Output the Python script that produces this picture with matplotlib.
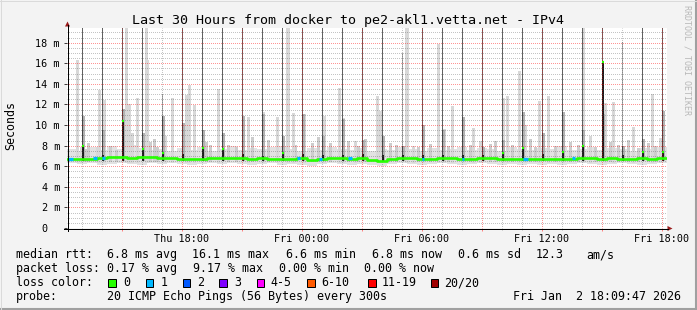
import numpy as np
import matplotlib
matplotlib.use("Agg")
import matplotlib.pyplot as plt
from matplotlib.patches import Rectangle, Polygon
from matplotlib.lines import Line2D

plt.rcParams['font.family'] = ['DejaVu Sans Mono']

# ---------------- data ----------------
title = "Last 30 Hours from docker to pe2-akl1.vetta.net - IPv4"
x_start, x_end = 12.25, 42.25          # hours since Thu 00:00
y_max = 19.43                          # ms

xtick_hours = [15, 18, 21, 24, 27, 30, 33, 36, 39, 42]
xtick_labels = ["", "Thu 18:00", "", "Fri 00:00", "", "Fri 06:00", "", "Fri 12:00", "", "Fri 18:00"]
ytick_values = [0, 2, 4, 6, 8, 10, 12, 14, 16, 18]
ytick_labels = ["0  ", "2 m", "4 m", "6 m", "8 m", "10 m", "12 m", "14 m", "16 m", "18 m"]

# half-hour bins: median rtt and the base smoke band (ms)
bin_start = [12.25 + 0.5 * i for i in range(60)]
median_ms = [6.75, 6.75, 6.75, 6.80, 6.85, 6.85, 6.80, 6.85, 6.85, 6.80,
             6.80, 6.75, 6.70, 6.75, 6.80, 6.80, 6.80, 6.80, 6.75, 6.80,
             6.70, 6.70, 6.75, 6.80, 6.65, 6.75, 6.80, 6.80, 6.75, 6.80,
             6.60, 6.55, 6.75, 6.80, 6.80, 6.75, 6.75, 6.80, 6.80, 6.75,
             6.75, 6.80, 6.80, 6.75, 6.70, 6.75, 6.75, 6.70, 6.75, 6.70,
             6.75, 6.80, 6.80, 6.75, 6.80, 6.75, 6.75, 6.80, 6.75, 6.80]
smoke_hi = [7.6, 7.4, 7.8, 7.5, 7.9, 7.6, 8.0, 7.7, 7.5, 7.6,
            7.4, 7.7, 7.5, 7.8, 7.4, 7.6, 7.9, 7.5, 7.7, 7.6,
            7.8, 7.9, 7.6, 7.4, 7.7, 7.5, 7.8, 7.6, 7.5, 7.7,
            7.4, 7.6, 7.5, 7.8, 7.6, 7.4, 7.7, 7.5, 7.6, 7.8,
            7.5, 7.7, 7.6, 7.4, 7.8, 7.6, 7.5, 7.7, 7.6, 7.9,
            7.5, 7.6, 7.8, 7.5, 7.7, 7.6, 7.4, 7.7, 7.6, 7.8]
smoke_lo = [6.4, 6.3, 6.4, 6.2, 6.3, 6.4, 6.3, 6.2, 6.4, 6.3,
            6.4, 6.3, 6.2, 6.3, 6.4, 6.3, 6.4, 6.3, 6.2, 6.3,
            6.4, 6.2, 6.3, 6.2, 6.1, 6.3, 6.4, 6.3, 6.2, 6.3,
            6.2, 6.1, 6.3, 6.4, 6.3, 6.2, 6.3, 6.4, 6.3, 6.2,
            6.3, 6.4, 6.3, 6.2, 6.3, 6.2, 6.3, 6.2, 6.3, 6.2,
            6.3, 6.4, 6.3, 6.2, 6.3, 6.4, 6.3, 6.2, 6.3, 6.4]

# hourly outlier events (top of the hour)
spike_hour = list(range(13, 43))
spike_top = [19.5, 19.5, 19.5, 19.5, 13.0, 19.5, 19.5, 19.5, 19.5, 19.5,
             19.5, 19.5, 19.5, 19.5, 19.5, 19.5, 17.0, 19.5, 19.5, 19.5,
             19.5, 19.5, 19.5, 19.5, 19.5, 19.5, 19.5, 18.0, 19.5, 19.5]
spike_dense_top = [10.8, 9.5, 11.5, 9.2, 10.8, 10.2, 9.5, 9.2, 10.8, 11.0,
                   8.9, 11.0, 8.9, 10.5, 8.5, 8.9, 7.9, 10.0, 9.5, 10.7,
                   7.8, 8.5, 11.2, 9.2, 11.2, 9.5, 11.0, 7.9, 8.6, 11.3]
spike_core_top = [8.0, 7.0, 10.4, 7.7, 7.3, 7.1, 7.8, 7.7, 7.1, 6.9,
                  7.3, 7.1, 7.0, 7.0, 7.1, 7.0, 7.0, 7.0, 7.0, 7.0,
                  7.0, 7.3, 7.8, 7.1, 7.4, 8.0, 16.1, 7.0, 7.4, 7.4]
spike_faint = [False, False, False, False, True, False, False, False, False, False,
               False, False, False, False, False, False, True, False, False, False,
               False, False, False, False, False, False, False, True, False, False]

# tall light smoke bars (hour, top ms)
light_hour = [12.745, 12.915, 13.715, 13.83, 14.055, 15.18, 15.305, 15.465, 15.715, 16.155,
              16.245, 17.13, 17.48, 18.165, 18.33, 18.58, 19.755, 21.295, 22.045, 22.715,
              23.22, 23.27, 23.505, 24.055, 25.055, 25.83, 26.045, 26.63, 27.745, 27.88,
              29.16, 29.21, 29.545, 30.045, 30.755, 31.08, 31.465, 32.045, 32.545, 32.88,
              34.045, 34.215, 34.82, 35.13, 35.83, 36.295, 37.045, 38.045, 38.38, 39.13,
              39.545, 40.545, 41.465, 41.88]
light_top = [16.3, 7.8, 7.8, 13.4, 12.4, 19.5, 12.0, 9.2, 12.6, 19.5,
             16.3, 8.9, 12.6, 12.9, 13.8, 11.9, 13.5, 10.7, 11.2, 10.7,
             19.5, 19.5, 11.1, 11.0, 10.8, 13.6, 10.6, 8.4, 12.8, 11.3,
             19.5, 19.5, 7.9, 10.0, 17.8, 9.6, 11.8, 10.7, 9.7, 8.4,
             12.6, 12.8, 15.2, 10.0, 12.3, 12.8, 11.2, 19.5, 8.9, 12.1,
             12.2, 9.8, 13.0, 8.7]

# small smoke bumps near the baseline (hour, top ms)
bump_hour = [13.13, 13.28, 14.38, 14.68, 16.38, 16.58, 16.73, 19.18, 19.38, 20.28,
             20.68, 21.48, 22.28, 23.63, 24.48, 24.78, 25.38, 26.28, 26.78, 27.13,
             28.38, 28.68, 29.78, 30.38, 31.28, 32.38, 33.38, 33.63, 34.48, 35.38,
             35.63, 36.63, 37.38, 37.78, 38.63, 39.38, 39.78, 40.28, 40.78, 41.28,
             41.63]
bump_top = [7.6, 8.2, 7.9, 7.5, 8.3, 8.6, 7.8, 8.3, 8.0, 8.0,
            7.8, 8.8, 8.5, 8.0, 8.2, 8.8, 8.2, 8.4, 7.9, 8.6,
            8.2, 8.0, 7.8, 8.1, 7.9, 8.0, 8.1, 8.4, 8.0, 8.6,
            7.8, 7.9, 8.3, 8.0, 7.8, 8.3, 8.0, 8.5, 7.7, 8.2,
            7.9]

# median intervals with 1 of 20 pings lost
loss1_start = [12.28, 13.53, 14.02, 23.73, 24.83, 26.28, 29.98, 31.98, 35.03, 37.48]
loss1_end = [12.53, 13.73, 14.13, 23.88, 24.98, 26.48, 30.08, 32.08, 35.28, 37.63]

# legend values
rtt_items = ["median rtt:", "6.8 ms avg", "16.1 ms max", "6.6 ms min", "6.8 ms now",
             "0.6 ms sd", "12.3", "am/s"]
loss_items = ["packet loss:", "0.17 % avg", "9.17 % max", "0.00 % min", "0.00 % now"]
loss_labels = ["0", "1", "2", "3", "4-5", "6-10", "11-19", "20/20"]
loss_colors = ["#26ff00", "#00b8ff", "#0059ff", "#7e00ff", "#ff00ff", "#ff5a00", "#ff0000", "#a00000"]
probe_items = ["probe:", "20 ICMP Echo Pings (56 Bytes) every 300s", "Fri Jan  2 18:09:47 2026"]

# ---------------- figure ----------------
W, H = 697, 310
fig = plt.figure(figsize=(W / 100, H / 100), dpi=100, facecolor="#f3f3f3")

def FX(px):
    return px / W

def FY(py):
    return 1 - py / H

ax = fig.add_axes([FX(67), FY(228), 600 / W, 200 / H])
ax.set_facecolor("white")
ax.set_xlim(x_start, x_end)
ax.set_ylim(0, y_max)
for s in ax.spines.values():
    s.set_visible(False)

PX = (x_end - x_start) / 600.0   # hours per pixel
crisp = dict(linewidth=0, antialiased=False, snap=False)

# base smoke band
ax.bar(bin_start, np.array(smoke_hi) - np.array(smoke_lo), bottom=smoke_lo, width=0.5,
       align="edge", color="#e2e2e2", zorder=1.0, **crisp)

# small bumps
ax.bar(bump_hour, np.array(bump_top) - 6.5, bottom=6.5, width=PX * 2, align="edge",
       color="#cdcdcd", zorder=1.1, **crisp)

# light tall bars
ax.bar(light_hour, np.array(light_top) - 6.4, bottom=6.4, width=PX * 2, align="edge",
       color="#d8d8d8", zorder=1.2, **crisp)

# hourly spikes (one pixel column starting at the hour, same column as the hourly grid)
for h, top, dtop, ctop, faint in zip(spike_hour, spike_top, spike_dense_top, spike_core_top, spike_faint):
    x0 = h + PX * 0.02
    line_col = "#a6a6a6" if faint else "#646464"
    ax.bar([x0], [top - dtop], bottom=dtop, width=PX * 0.96, align="edge", color=line_col,
           zorder=1.5, **crisp)
    ax.bar([x0 + PX], [dtop - 6.6], bottom=6.6, width=PX * 1.96, align="edge", color="#b2b2b2",
           zorder=1.5, **crisp)
    ax.bar([x0], [dtop - 6.6], bottom=6.6, width=PX * 0.96, align="edge", color="#444444",
           zorder=1.6, **crisp)
    ax.bar([x0], [ctop - 6.6], bottom=6.6, width=PX * 1.96, align="edge", color="#1c1c1c",
           zorder=1.7, **crisp)
    if ctop > 7.25:
        ax.plot([h, h + PX * 2], [ctop, ctop], color=loss_colors[0],
                lw=1.6, solid_capstyle="butt", zorder=3.0)

# median line
edges = list(bin_start) + [bin_start[-1] + 0.5]
ax.step(edges, list(median_ms) + [median_ms[-1]], where="post", color=loss_colors[0],
        lw=1.9, zorder=3.1)
for a, b in zip(loss1_start, loss1_end):
    yv = np.interp((a + b) / 2, np.array(bin_start) + 0.25, median_ms)
    ax.plot([a, b], [yv, yv], color=loss_colors[1], lw=2.3, solid_capstyle="butt", zorder=3.2)

# grid (drawn over data, rrdtool style); dotted 1px on / 1px off, phase-aligned to pixels
ax.set_axisbelow(False)
ax.set_xticks(xtick_hours)
ax.set_xticklabels(xtick_labels)
ax.set_xticks(np.arange(13, 43, 1), minor=True)
ax.set_yticks(ytick_values)
ax.set_yticklabels(ytick_labels)
ax.set_yticks(np.arange(0.5, 19.5, 0.5), minor=True)
dot = (0.5, (1, 1))
ax.grid(True, which="major", color="#ff0000", alpha=0.42, linestyle=dot, lw=0.72)
ax.grid(True, which="minor", color="#4d4d4d", alpha=0.33, linestyle=dot, lw=0.72)
ax.tick_params(axis="x", which="major", length=2.0, width=0.72, color="#ff8080",
               labelsize=7.3, pad=2.4, labelcolor="black")
ax.tick_params(axis="x", which="minor", length=1.4, width=0.72, color="#b0b0b0")
ax.tick_params(axis="y", which="major", length=2.2, width=0.72, color="#404040",
               labelsize=7.3, pad=2.9, labelcolor="black")
ax.tick_params(axis="y", which="minor", length=0)

# axis lines + arrows
fig.add_artist(Line2D([FX(67.5), FX(67.5)], [FY(231), FY(25)], color="black", lw=0.72))
fig.add_artist(Line2D([FX(64), FX(668)], [FY(228.5), FY(228.5)], color="black", lw=0.72))
fig.add_artist(Polygon([[FX(65), FY(26.5)], [FX(70), FY(26.5)], [FX(67.5), FY(21.5)]],
                       closed=True, color="#9b1c1c", lw=0))
fig.add_artist(Polygon([[FX(667.5), FY(226)], [FX(667.5), FY(231)], [FX(672.5), FY(228.5)]],
                       closed=True, color="#9b1c1c", lw=0))

# frame
fig.add_artist(Line2D([FX(0), FX(697)], [FY(309), FY(309)], color="#a0a0a0", lw=1.5))
fig.add_artist(Line2D([FX(696), FX(696)], [FY(0), FY(310)], color="#a0a0a0", lw=1.5))
fig.add_artist(Line2D([FX(0), FX(697)], [FY(0.5), FY(0.5)], color="#dadada", lw=0.72))
fig.add_artist(Line2D([FX(0.5), FX(0.5)], [FY(0), FY(310)], color="#dadada", lw=0.72))

# texts
fig.text(FX(348), FY(24), title, ha="center", va="baseline", fontsize=9.6, color="black")
fig.text(FX(10.5), FY(125), "Seconds", rotation=90, ha="center", va="center", fontsize=8.37)
fig.text(FX(687), FY(60), "RRDTOOL / TOBI OETIKER", rotation=270, ha="center", va="center",
         fontsize=6.0, color="#b8b8b8")

LEG = 8.37
rtt_x = [16, 107, 192, 285.5, 372.2, 457.8, 535.5, 586]
loss_x = [16, 107, 192.8, 278.8, 364.5]
probe_x = [16, 107, 513]
for xx, txt in zip(rtt_x, rtt_items):
    fig.text(FX(xx), FY(258.3), txt, ha="left", va="baseline", fontsize=LEG)
for xx, txt in zip(loss_x, loss_items):
    fig.text(FX(xx), FY(272.3), txt, ha="left", va="baseline", fontsize=LEG)
fig.text(FX(16), FY(286.3), "loss color:", ha="left", va="baseline", fontsize=LEG)
for xx, txt in zip(probe_x, probe_items):
    fig.text(FX(xx), FY(300.3), txt, ha="left", va="baseline", fontsize=LEG)

box_x = [108, 145.7, 182.7, 219.3, 256.7, 307.3, 368.3, 430.7]
lab_x = [123, 160.5, 197.5, 234.5, 270.5, 321.5, 381.5, 444.5]
for bx, lx, lab, colr in zip(box_x, lab_x, loss_labels, loss_colors):
    fig.add_artist(Rectangle((FX(bx), FY(286.5)), 7.5 / W, 7.5 / H, facecolor=colr,
                             edgecolor="black", lw=0.72))
    fig.text(FX(lx), FY(286.3), lab, ha="left", va="baseline", fontsize=LEG)

fig.savefig("out.png", dpi=100, facecolor=fig.get_facecolor())
